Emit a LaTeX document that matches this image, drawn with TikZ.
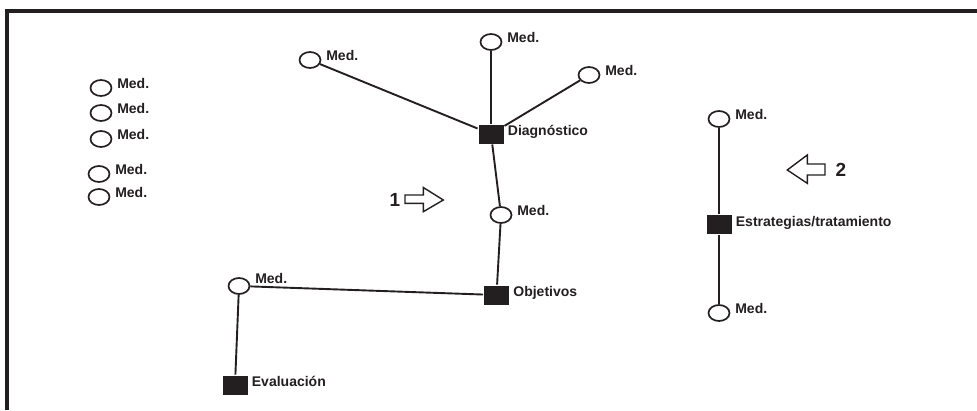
\documentclass[tikz,border=0pt]{standalone}
\usepackage{fontspec}
\setmainfont{Liberation Sans}
\usepackage{tikz}
\usetikzlibrary{shapes.geometric}
\definecolor{ink}{RGB}{35,31,32}

\begin{document}
\begin{tikzpicture}[x=1pt, y=-1pt, ink, line width=1.9pt,
    lbl/.style={anchor=base west, inner sep=0pt, text=ink, font=\bfseries\fontsize{14}{16}\selectfont},
    med/.style={ellipse, draw, line width=1.7pt, minimum width=21pt, minimum height=16pt, inner sep=0pt, label={[lbl, label distance=4pt, yshift=#1]0:Med.}},
    med/.default=0pt,
    etapa/.style={rectangle, fill, minimum width=25pt, minimum height=19pt, inner sep=0pt, label={[lbl, label distance=2.5pt, yshift=-1.5pt]0:#1}},
    flecha/.style={draw, line width=1.4pt, line join=miter},
    numero/.style={anchor=base, inner sep=0pt, text=ink, font=\bfseries\fontsize{19}{22}\selectfont}]
    \useasboundingbox (0, 0) rectangle (977, 410);
    \draw[line width=3.6pt, line join=miter] (7, 410) -- (7, 10.7) -- (977, 10.7);

    \node[med] (m1) at (101, 88) {};
    \node[med] (m2) at (101, 113) {};
    \node[med] (m3) at (101, 139) {};
    \node[med] (m4) at (99, 174) {};
    \node[med] (m5) at (99, 197) {};

    \node[etapa=Diagnóstico] (diag) at (491, 134) {};
    \node[med] (mtl) at (310, 60) {};
    \node[med] (mtop) at (491, 42) {};
    \node[med] (mtr) at (589, 75) {};
    \node[med] (mmid) at (501, 215) {};
    \node[etapa=Objetivos] (obj) at (496.5, 295) {};
    \node[med=2.5pt] (mev) at (239, 286) {};
    \node[etapa=Evaluación] (eva) at (235, 385) {};

    \node[med] (mst) at (719, 119) {};
    \node[etapa=Estrategias/tratamiento] (est) at (719, 224.5) {};
    \node[med] (msb) at (719, 313) {};

    \draw (mtl) -- (diag);
    \draw (mtop) -- (diag);
    \draw (mtr) -- (diag);
    \draw (diag) -- (mmid);
    \draw (mmid) -- (obj);
    \draw (mev) -- (obj);
    \draw (mev) -- (eva);
    \draw (mst) -- (est);
    \draw (est) -- (msb);

    \node[numero] (uno) at (395, 206.7) {1};
    \draw[flecha] (405, 195) -- (423.3, 195) -- (423.3, 187.5) -- (443.3, 200) -- (423.3, 211.7) -- (423.3, 203.3) -- (405, 203.3) -- cycle;
    \node[numero] (dos) at (841, 176) {2};
    \draw[flecha] (825, 164) -- (807.3, 164) -- (807.3, 155) -- (787.3, 170) -- (807.3, 183.3) -- (807.3, 175) -- (825, 175) -- cycle;
\end{tikzpicture}
\end{document}
